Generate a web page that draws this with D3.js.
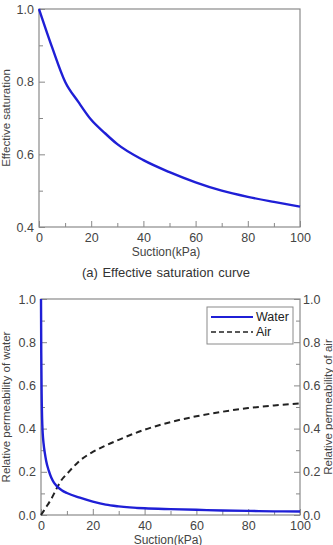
<!doctype html>
<html>
<head>
<meta charset="utf-8">
<title>Effective saturation and relative permeability</title>
<script src="https://cdn.jsdelivr.net/npm/d3@7"></script>
<style>
  body { margin: 0; background: #fff; }
  svg text { font-family: "Liberation Sans", Arial, sans-serif; fill: #444; }
  .tick line { stroke: #888; }
  .domain { stroke: none; }
</style>
</head>
<body>
<svg id="chart" width="333" height="545"></svg>
<script>
// (a) effective saturation curve
var suctionSe = [0, 5, 10, 15, 20, 25, 30, 40, 50, 60, 70, 80, 90, 100];
var effSat    = [1.0, 0.895, 0.80, 0.745, 0.695, 0.66, 0.628, 0.584, 0.551, 0.523, 0.50, 0.483, 0.469, 0.456];

// (b) relative permeability
var suctionKw = [0, 0.1, 0.25, 0.5, 1, 1.5, 2, 3, 4, 5, 6, 8, 10, 15, 20, 25, 30, 40, 50, 60, 70, 80, 90, 100];
var kWater    = [1.0, 0.75, 0.56, 0.42, 0.33, 0.285, 0.25, 0.205, 0.172, 0.15, 0.135, 0.115, 0.102, 0.08, 0.062, 0.048, 0.04, 0.031, 0.027, 0.024, 0.021, 0.019, 0.017, 0.016];
var suctionKa = [0, 1, 2, 3, 4, 5, 6, 8, 10, 15, 20, 25, 30, 40, 50, 60, 70, 80, 90, 100];
var kAir      = [0, 0.018, 0.037, 0.055, 0.075, 0.098, 0.122, 0.163, 0.19, 0.252, 0.292, 0.322, 0.348, 0.395, 0.43, 0.457, 0.478, 0.495, 0.507, 0.517];

var xMajor = [0, 20, 40, 60, 80, 100];
var xMinor = [10, 30, 50, 70, 90];
var ySeMajor = [0.4, 0.6, 0.8, 1.0];
var ySeMinor = [0.5, 0.7, 0.9];
var yKMajor = [0, 0.2, 0.4, 0.6, 0.8, 1.0];
var yKMinor = [0.1, 0.3, 0.5, 0.7, 0.9];

var svg = d3.select('#chart');
var fmt = d3.format('.1f');

function frame(g, x, y) {
  g.append('rect')
    .attr('x', x.range()[0]).attr('y', y.range()[1])
    .attr('width', x.range()[1] - x.range()[0])
    .attr('height', y.range()[0] - y.range()[1])
    .attr('fill', 'none').attr('stroke', '#8a8a8a').attr('stroke-width', 1.2);
}

function xAxes(g, x, y, pad) {
  var b = y.range()[0];
  g.append('g').attr('transform', 'translate(0,' + b + ')')
    .call(d3.axisBottom(x).tickValues(xMajor).tickSizeInner(-6).tickSizeOuter(0).tickPadding(pad))
    .call(function(s){ s.selectAll('text').attr('font-size', 12.5); });
  g.append('g').attr('transform', 'translate(0,' + b + ')')
    .call(d3.axisBottom(x).tickValues(xMinor).tickSizeInner(-4).tickSizeOuter(0).tickFormat(''));
}

function yAxes(g, y, xpos, left, major, minor) {
  var ax = left ? d3.axisLeft : d3.axisRight;
  g.append('g').attr('transform', 'translate(' + xpos + ',0)')
    .call(ax(y).tickValues(major).tickSizeInner(-6).tickSizeOuter(0).tickPadding(left ? 5 : 3).tickFormat(fmt))
    .call(function(s){ s.selectAll('text').attr('font-size', 12.5); });
  g.append('g').attr('transform', 'translate(' + xpos + ',0)')
    .call(ax(y).tickValues(minor).tickSizeInner(-4).tickSizeOuter(0).tickFormat(''));
}

// ---------- top chart ----------
var x1 = d3.scaleLinear().domain([0, 100]).range([39, 300]);
var y1 = d3.scaleLinear().domain([0.4, 1.0]).range([227, 9]);
var g1 = svg.append('g');

xAxes(g1, x1, y1, 6);
yAxes(g1, y1, 39, true, ySeMajor, ySeMinor);
frame(g1, x1, y1);

g1.append('path')
  .datum(d3.zip(suctionSe, effSat))
  .attr('fill', 'none').attr('stroke', '#1f1fd6').attr('stroke-width', 2.4)
  .attr('d', d3.line().x(function(d){ return x1(d[0]); }).y(function(d){ return y1(d[1]); }).curve(d3.curveMonotoneX));

g1.append('text').attr('x', 166).attr('y', 256).attr('text-anchor', 'middle')
  .attr('font-size', 12).text('Suction(kPa)');
g1.append('text').attr('transform', 'translate(10,118) rotate(-90)').attr('text-anchor', 'middle')
  .attr('font-size', 11.5).text('Effective saturation');

svg.append('text').attr('x', 166).attr('y', 277).attr('text-anchor', 'middle')
  .attr('font-size', 13).attr('word-spacing', 1).style('fill', '#333')
  .text('(a) Effective saturation curve');

// ---------- bottom chart ----------
var x2 = d3.scaleLinear().domain([0, 100]).range([41, 300]);
var y2 = d3.scaleLinear().domain([0, 1.0]).range([515, 299]);
var g2 = svg.append('g');

xAxes(g2, x2, y2, 6);
yAxes(g2, y2, 41, true, yKMajor, yKMinor);
yAxes(g2, y2, 300, false, yKMajor, yKMinor);
frame(g2, x2, y2);

g2.append('path')
  .datum(d3.zip(suctionKa, kAir))
  .attr('fill', 'none').attr('stroke', '#222').attr('stroke-width', 2)
  .attr('stroke-dasharray', '6,4')
  .attr('d', d3.line().x(function(d){ return x2(d[0]); }).y(function(d){ return y2(d[1]); }).curve(d3.curveMonotoneX));

g2.append('path')
  .datum(d3.zip(suctionKw, kWater))
  .attr('fill', 'none').attr('stroke', '#1f1fd6').attr('stroke-width', 2.4)
  .attr('d', d3.line().x(function(d){ return x2(d[0]); }).y(function(d){ return y2(d[1]); }).curve(d3.curveMonotoneX));

g2.append('text').attr('x', 168).attr('y', 544).attr('text-anchor', 'middle')
  .attr('font-size', 12).text('Suction(kPa)');
g2.append('text').attr('transform', 'translate(10,407) rotate(-90)').attr('text-anchor', 'middle')
  .attr('font-size', 11.5).text('Relative permeability of water');
g2.append('text').attr('transform', 'translate(332,407) rotate(-90)').attr('text-anchor', 'middle')
  .attr('font-size', 11.5).text('Relative permeability of air');

// legend
var lg = g2.append('g');
lg.append('rect').attr('x', 207).attr('y', 307).attr('width', 86).attr('height', 37)
  .attr('fill', '#fff').attr('stroke', '#8a8a8a').attr('stroke-width', 1);
lg.append('line').attr('x1', 211).attr('x2', 253).attr('y1', 317).attr('y2', 317)
  .attr('stroke', '#1f1fd6').attr('stroke-width', 2);
lg.append('line').attr('x1', 211).attr('x2', 253).attr('y1', 332).attr('y2', 332)
  .attr('stroke', '#222').attr('stroke-width', 1.6).attr('stroke-dasharray', '5,3');
lg.append('text').attr('x', 256).attr('y', 321).attr('font-size', 12.5).style('fill', '#222').text('Water');
lg.append('text').attr('x', 256).attr('y', 336).attr('font-size', 12.5).style('fill', '#222').text('Air');
</script>
</body>
</html>
